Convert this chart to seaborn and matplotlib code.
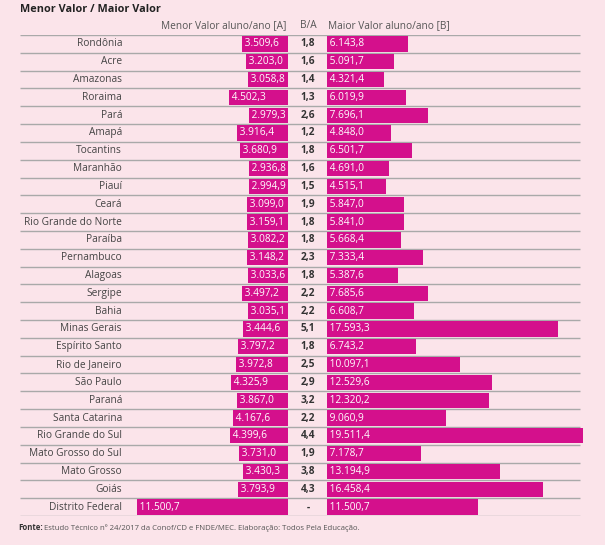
import matplotlib
matplotlib.use("Agg")
import matplotlib.pyplot as plt
import seaborn as sns
import pandas as pd

estados = ["Rondônia","Acre","Amazonas","Roraima","Pará","Amapá","Tocantins","Maranhão","Piauí","Ceará",
           "Rio Grande do Norte","Paraíba","Pernambuco","Alagoas","Sergipe","Bahia","Minas Gerais","Espírito Santo",
           "Rio de Janeiro","São Paulo","Paraná","Santa Catarina","Rio Grande do Sul","Mato Grosso do Sul",
           "Mato Grosso","Goiás","Distrito Federal"]
menor = [3509.6,3203.0,3058.8,4502.3,2979.3,3916.4,3680.9,2936.8,2994.9,3099.0,3159.1,3082.2,3148.2,3033.6,
         3497.2,3035.1,3444.6,3797.2,3972.8,4325.9,3867.0,4167.6,4399.6,3731.0,3430.3,3793.9,11500.7]
maior = [6143.8,5091.7,4321.4,6019.9,7696.1,4848.0,6501.7,4691.0,4515.1,5847.0,5841.0,5668.4,7333.4,5387.6,
         7685.6,6608.7,17593.3,6743.2,10097.1,12529.6,12320.2,9060.9,19511.4,7178.7,13194.9,16458.4,11500.7]
razao = ["1,8","1,6","1,4","1,3","2,6","1,2","1,8","1,6","1,5","1,9","1,8","1,8","2,3","1,8","2,2","2,2",
         "5,1","1,8","2,5","2,9","3,2","2,2","4,4","1,9","3,8","4,3","-"]

df = pd.DataFrame({"estado": estados, "menor": menor, "maior": maior})

def fmt(v):
    s = f"{v:,.1f}"
    return s.replace(",", "X").replace(".", ",").replace("X", ".")

BG = "#fbe4ea"
MAG = "#d4108c"
FONT = "Open Sans"
W, H = 605, 545
fig = plt.figure(figsize=(W/100, H/100), dpi=100, facecolor=BG)

ytop, ybot = 35, 516
n = len(estados)
def fy(p):
    return 1 - p / H

bg = fig.add_axes([0, fy(ybot), 1, fy(ytop) - fy(ybot)], facecolor=BG)
bg.set_xlim(0, W)
bg.set_ylim(n - 0.5, -0.5)
bg.axis("off")
for i in range(n + 1):
    bg.hlines(i - 0.5, 20, 580, color="#a9a9a9", lw=1.0)

scale = 0.01313  # px per unit
L0, R0 = 288, 327
axL = fig.add_axes([0, fy(ybot), L0 / W, fy(ytop) - fy(ybot)])
axR = fig.add_axes([R0 / W, fy(ybot), (W - R0) / W, fy(ytop) - fy(ybot)])
sns.barplot(data=df, y="estado", x="menor", ax=axL, color=MAG, saturation=1, width=0.86, orient="h")
sns.barplot(data=df, y="estado", x="maior", ax=axR, color=MAG, saturation=1, width=0.86, orient="h")
axL.set_xlim(L0 / scale, 0)
axR.set_xlim(0, (W - R0) / scale)
for a in (axL, axR):
    a.set_ylim(n - 0.5, -0.5)
    a.axis("off")
    a.patch.set_alpha(0)

fs = 7.3
for i, e in enumerate(estados):
    bg.text(122, i, e, ha="right", va="center", fontsize=fs, color="#444444", family=FONT)
    axL.text(menor[i] - 3 / scale * 0 - 0.0, i, " " + fmt(menor[i]), ha="left", va="center",
             fontsize=fs, color="white", family=FONT)
    bg.text(308, i, razao[i], ha="center", va="center", fontsize=fs, color="#333333",
            family=FONT, fontweight="bold")
    axR.text(0, i, " " + fmt(maior[i]), ha="left", va="center", fontsize=fs, color="white", family=FONT)

fig.text(20 / W, fy(10), "Menor Valor / Maior Valor", ha="left", va="center", fontsize=7.8,
         fontweight="bold", color="#222222", family=FONT)
fig.text(286 / W, fy(26), "Menor Valor aluno/ano [A]", ha="right", va="center", fontsize=fs,
         color="#555555", family=FONT)
fig.text(308 / W, fy(26), "B/A", ha="center", va="center", fontsize=fs, color="#555555", family=FONT)
fig.text(328 / W, fy(26), "Maior Valor aluno/ano [B]", ha="left", va="center", fontsize=fs,
         color="#555555", family=FONT)
t = fig.text(18 / W, fy(528), "Fonte:", ha="left", va="center", fontsize=5.6, fontweight="bold",
             color="#333333", family=FONT)
fig.text(44 / W, fy(528), "Estudo Técnico nº 24/2017 da Conof/CD e FNDE/MEC. Elaboração: Todos Pela Educação.",
         ha="left", va="center", fontsize=5.6, color="#555555", family=FONT)

fig.savefig("out.png", dpi=100, facecolor=BG)
